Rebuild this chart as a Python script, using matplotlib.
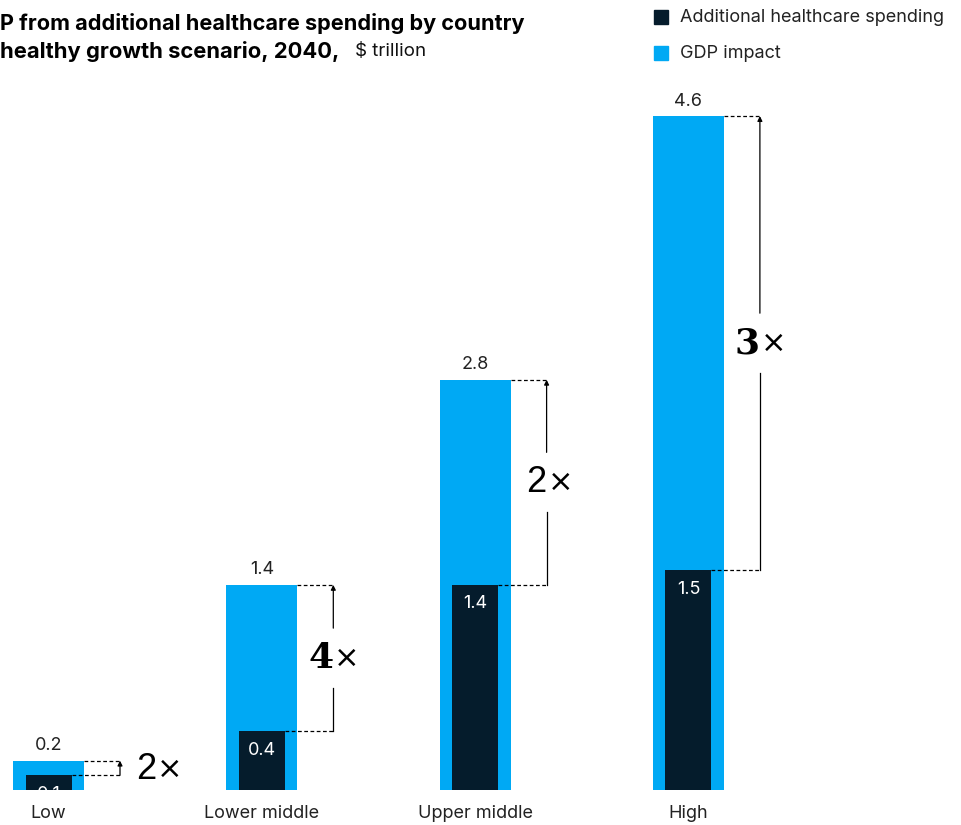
#!/usr/bin/env python3
"""
Bar chart: GDP impact vs additional healthcare spending by country income level, 2040.
"""

import matplotlib
matplotlib.use('Agg')
import matplotlib.pyplot as plt

# *************************************************************************
# data
categories = ['Low', 'Lower middle', 'Upper middle', 'High']
spending = [0.1, 0.4, 1.4, 1.5]
gdp_impact = [0.2, 1.4, 2.8, 4.6]
multiplier = ['2', '4', '2', '3']
spend_labels = ['0.1', '0.4', '1.4', '1.5']
gdp_labels = ['0.2', '1.4', '2.8', '4.6']

color_spend = '#051C2C'
color_gdp = '#00A9F4'
color_text = '#222222'

plt.rcParams['font.family'] = ['Inter', 'DejaVu Sans']

fig = plt.figure(figsize=(9.62, 8.25), dpi=100)

# axes placed so that one category step ~213 px and one unit ~146.5 px
px_x = 213.3
px_y = 146.5
ax = fig.add_axes([0, 35 / 825, 1, 5 * px_y / 825])
ax.set_xlim(-48.5 / px_x, (962 - 48.5) / px_x)
ax.set_ylim(0, 5)
ax.axis('off')

x = list(range(len(categories)))
w_gdp = 71 / px_x
w_spend = 46 / px_x

ax.bar(x, gdp_impact, width=w_gdp, color=color_gdp, zorder=1)
ax.bar(x, spending, width=w_spend, color=color_spend, zorder=2)

arrow_off = w_gdp / 2 + 36 / px_x
for i, cat in enumerate(categories):
    top = gdp_impact[i]
    low = spending[i]
    ax_x = i + arrow_off

    # category and value labels
    ax.text(i, -23 / px_y, cat, ha='center', va='center', fontsize=13, color=color_text, clip_on=False)
    ax.text(i, top + 15 / px_y, gdp_labels[i], ha='center', va='center', fontsize=13, color=color_text)
    ax.text(i, low - 19 / px_y, spend_labels[i], ha='center', va='center', fontsize=13,
            color='white', zorder=3, clip_on=False)

    # dashed connectors
    ax.plot([i + w_spend / 2, ax_x], [low, low], color='black', lw=0.9, ls=(0, (3, 2)), zorder=3)
    ax.plot([i + w_gdp / 2, ax_x], [top, top], color='black', lw=0.9, ls=(0, (3, 2)), zorder=3)

    mid = (top + low) / 2
    if i == 0:
        ax.annotate('', xy=(ax_x, top), xytext=(ax_x, low),
                    arrowprops=dict(arrowstyle='-|>', lw=0.9, color='black', mutation_scale=7,
                                    shrinkA=0, shrinkB=0))
        tx = ax_x + 36 / px_x
        ty = low + 6 / px_y
    else:
        gap = 30 / px_y
        ax.plot([ax_x, ax_x], [low, mid - gap], color='black', lw=0.9)
        ax.annotate('', xy=(ax_x, top), xytext=(ax_x, mid + gap),
                    arrowprops=dict(arrowstyle='-|>', lw=0.9, color='black', mutation_scale=7,
                                    shrinkA=0, shrinkB=0))
        tx = ax_x
        ty = mid

    if multiplier[i] == '2':
        ax.text(tx, ty, multiplier[i], ha='right', va='center', fontsize=26, color='black',
                family='Liberation Sans')
    else:
        ax.text(tx, ty, multiplier[i], ha='right', va='center', fontsize=26, color='black',
                family='DejaVu Serif', fontweight='bold')
    ax.text(tx + 1 / px_x, ty, '\u00d7', ha='left', va='center', fontsize=22, color='black',
            family='DejaVu Sans')

# title (only the part visible in the reference, which is cut at the left edge)
fig.text(0, 1 - 23 / 825, 'P from additional healthcare spending by country',
         ha='left', va='center', fontsize=15.6, fontweight='bold', color='black')
fig.text(0, 1 - 51 / 825, 'healthy growth scenario, 2040,',
         ha='left', va='center', fontsize=15.8, fontweight='bold', color='black')
fig.text(355 / 962, 1 - 51 / 825, '$ trillion', ha='left', va='center', fontsize=13.5, color='#111111')

# legend
for j, (lab, col) in enumerate([('Additional healthcare spending', color_spend), ('GDP impact', color_gdp)]):
    yc = 17 + j * 36
    fig.patches.append(plt.Rectangle((654 / 962, 1 - (yc + 7) / 825), 14 / 962, 14 / 825,
                                     transform=fig.transFigure, color=col, figure=fig))
    fig.text(680 / 962, 1 - yc / 825, lab, ha='left', va='center', fontsize=13, color=color_text)

fig.savefig('out.png', dpi=100)
